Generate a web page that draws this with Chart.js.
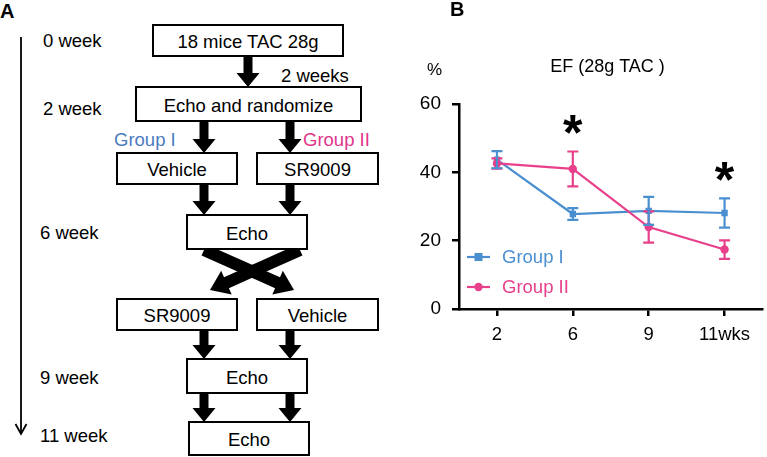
<!DOCTYPE html>
<html>
<head>
<meta charset="utf-8">
<script src="https://cdn.jsdelivr.net/npm/chart.js@4/dist/chart.umd.min.js"></script>
<style>
  html, body { margin: 0; padding: 0; background: #fff; }
  body { width: 767px; height: 457px; position: relative; overflow: hidden;
         font-family: "Liberation Sans", Arial, sans-serif; }
  #flow { position: absolute; left: 0; top: 0; }
  #chartBox { position: absolute; left: 400px; top: 0; width: 367px; height: 457px; }
</style>
</head>
<body>
<svg id="flow" width="400" height="457" xmlns="http://www.w3.org/2000/svg"></svg>
<div id="chartBox"><canvas id="efChart" width="367" height="457"></canvas></div>

<script>
// ===== DATA =====
const weeks = ["2", "6", "9", "11wks"];
const groupI = [43.7, 27.8, 28.7, 28.1];
const groupIErr = [2.5, 1.7, 4.1, 4.3];
const groupII = [42.6, 41, 24, 17.4];
const groupIIErr = [1.5, 5.1, 4.6, 2.7];
const significant = [false, true, false, true];
const yTicks = [0, 20, 40, 60];

const BLUE = "#4a8fd0";
const PINK = "#e8408b";
const FONT = '"Liberation Sans", Arial, sans-serif';

// ===== PANEL A : FLOW DIAGRAM =====
const svg = document.getElementById("flow");
const NS = "http://www.w3.org/2000/svg";

function el(name, attrs, text) {
    const e = document.createElementNS(NS, name);
    for (const k in attrs) e.setAttribute(k, attrs[k]);
    if (text) e.textContent = text;
    svg.appendChild(e);
    return e;
}

function label(x, y, str, anchor, color, weight, size) {
    el("text", {
        x: x, y: y, "text-anchor": anchor || "start", "dominant-baseline": "central",
        fill: color || "#000", "font-size": size || 18.5, "font-weight": weight || "normal",
        "font-family": FONT
    }, str);
}

function box(x, y, w, h, str) {
    el("rect", { x: x, y: y, width: w, height: h, fill: "#fff", stroke: "#000", "stroke-width": 2 });
    label(x + w / 2, y + h / 2 + 1, str, "middle");
}

// thick arrow from (x1,y1) to tip (x2,y2)
function arrow(x1, y1, x2, y2, shaft, headW, headL) {
    const dx = x2 - x1, dy = y2 - y1;
    const len = Math.hypot(dx, dy);
    const ux = dx / len, uy = dy / len;
    const px = -uy, py = ux;
    const bx = x2 - ux * headL, by = y2 - uy * headL;
    const s = shaft / 2, hw = headW / 2;
    const pts = [
        [x1 + px * s, y1 + py * s], [bx + px * s, by + py * s], [bx + px * hw, by + py * hw],
        [x2, y2],
        [bx - px * hw, by - py * hw], [bx - px * s, by - py * s], [x1 - px * s, y1 - py * s]
    ];
    el("polygon", { points: pts.map(p => p.join(",")).join(" "), fill: "#000" });
}

// timeline
el("line", { x1: 21, y1: 37, x2: 21, y2: 434, stroke: "#000", "stroke-width": 1.8 });
el("polyline", { points: "15.5,424 21,434 26.5,424", fill: "none", stroke: "#000", "stroke-width": 1.8 });

label(0, 11, "A", "start", "#000", "bold", 20);
label(43, 40, "0 week");
label(43, 108, "2 week");
label(40, 232, "6 week");
label(40, 377, "9 week");
label(40, 435, "11 week");
label(281, 75, "2 weeks");
label(114, 139, "Group I", "start", "#4a7cc0");
label(303, 139, "Group II", "start", "#e0358a");

// arrows
[[248, 56, 87], [204, 121, 153], [290, 121, 153], [204, 184, 215], [290, 184, 215],
 [204, 330, 359], [290, 330, 359], [204, 393, 422], [290, 393, 422]].forEach(a => {
    arrow(a[0], a[1], a[0], a[2], 9, 23, 14);
});
arrow(300, 250, 210, 290, 12, 26, 18);
arrow(204, 250, 294, 290, 12, 26, 18);

box(153, 25, 190, 31, "18 mice TAC 28g");
box(136, 87, 225, 34, "Echo and randomize");
box(117, 153, 120, 31, "Vehicle");
box(257, 153, 121, 31, "SR9009");
box(187, 215, 120, 34, "Echo");
box(117, 299, 120, 31, "SR9009");
box(257, 299, 121, 31, "Vehicle");
box(187, 359, 120, 34, "Echo");
box(189, 422, 120, 33, "Echo");

// ===== PANEL B : CHART =====
const errorBars = {
    id: "errorBars",
    afterDatasetsDraw(chart) {
        const ctx = chart.ctx;
        const y = chart.scales.y;
        ctx.save();
        ctx.lineWidth = 2.2;
        chart.data.datasets.slice().reverse().forEach(ds => {
            const meta = chart.getDatasetMeta(chart.data.datasets.indexOf(ds));
            ctx.strokeStyle = ds.borderColor;
            meta.data.forEach((pt, i) => {
                const top = y.getPixelForValue(ds.data[i] + ds.err[i]);
                const bot = y.getPixelForValue(ds.data[i] - ds.err[i]);
                ctx.beginPath();
                ctx.moveTo(pt.x, top); ctx.lineTo(pt.x, bot);
                ctx.moveTo(pt.x - 5.5, top); ctx.lineTo(pt.x + 5.5, top);
                ctx.moveTo(pt.x - 5.5, bot); ctx.lineTo(pt.x + 5.5, bot);
                ctx.stroke();
            });
        });
        ctx.restore();
    }
};

const extras = {
    id: "extras",
    afterDraw(chart) {
        const ctx = chart.ctx;
        const area = chart.chartArea;
        const x = chart.scales.x, y = chart.scales.y;
        ctx.save();
        ctx.fillStyle = "#000";
        ctx.textBaseline = "middle";

        ctx.font = "bold 20px " + FONT;
        ctx.textAlign = "left";
        ctx.fillText("B", 50, 10);

        ctx.font = "18px " + FONT;
        ctx.textAlign = "center";
        ctx.fillText("EF (28g TAC )", 207.5, 67);
        ctx.font = "17px " + FONT;
        ctx.fillText("%", 34.5, 70);

        // significance stars, centred ~16px above the highest error cap
        ctx.font = "bold 50px " + FONT;
        ctx.textBaseline = "middle";
        significant.forEach((s, i) => {
            if (!s) return;
            const top = Math.max(groupI[i] + groupIErr[i], groupII[i] + groupIIErr[i]);
            const cy = y.getPixelForValue(top) - 26;
            ctx.fillText("*", x.getPixelForValue(i), cy + 11);
        });

        // legend
        ctx.textBaseline = "middle";
        ctx.textAlign = "left";
        ctx.font = "18.5px " + FONT;
        chart.data.datasets.forEach((ds, i) => {
            const ly = area.bottom - 52 + i * 30;
            const lx = area.left + 8;
            ctx.strokeStyle = ds.borderColor;
            ctx.fillStyle = ds.borderColor;
            ctx.lineWidth = 2.2;
            ctx.beginPath(); ctx.moveTo(lx, ly); ctx.lineTo(lx + 23, ly); ctx.stroke();
            if (ds.pointStyle === "rect") ctx.fillRect(lx + 7.5, ly - 4, 8, 8);
            else { ctx.beginPath(); ctx.arc(lx + 11.5, ly, 4.2, 0, Math.PI * 2); ctx.fill(); }
            ctx.fillText(ds.label, lx + 35, ly + 1);
        });
        ctx.restore();
    }
};

const axisLook = {
    border: { color: "#000", width: 2.5 },
    grid: { drawOnChartArea: false, drawTicks: true, tickLength: 7, color: "#000", lineWidth: 2.5 }
};

new Chart(document.getElementById("efChart"), {
    type: "line",
    data: {
        labels: weeks,
        datasets: [
            {
                label: "Group I", data: groupI, err: groupIErr, order: 1,
                borderColor: BLUE, backgroundColor: BLUE, borderWidth: 2.2,
                pointStyle: "rect", pointRadius: 4.5, pointBorderWidth: 0
            },
            {
                label: "Group II", data: groupII, err: groupIIErr, order: 0,
                borderColor: PINK, backgroundColor: PINK, borderWidth: 2.2,
                pointStyle: "circle", pointRadius: 4.2, pointBorderWidth: 0
            }
        ]
    },
    options: {
        responsive: false,
        animation: false,
        layout: { padding: { top: 104, right: 0, bottom: 0, left: 0 } },
        plugins: { legend: { display: false }, tooltip: { enabled: false } },
        scales: {
            x: {
                offset: true,
                border: axisLook.border,
                grid: Object.assign({ offset: false }, axisLook.grid),
                ticks: { color: "#000", font: { family: FONT, size: 18.5 }, padding: 8, maxRotation: 0 },
                afterFit(scale) { scale.height = 148; }
            },
            y: {
                min: 0, max: 60,
                border: axisLook.border,
                grid: axisLook.grid,
                afterBuildTicks(scale) { scale.ticks = yTicks.map(v => ({ value: v })); },
                ticks: { color: "#000", font: { family: FONT, size: 19 }, padding: 11 },
                afterFit(scale) { scale.width = 59; }
            }
        }
    },
    plugins: [errorBars, extras]
});
</script>
</body>
</html>
